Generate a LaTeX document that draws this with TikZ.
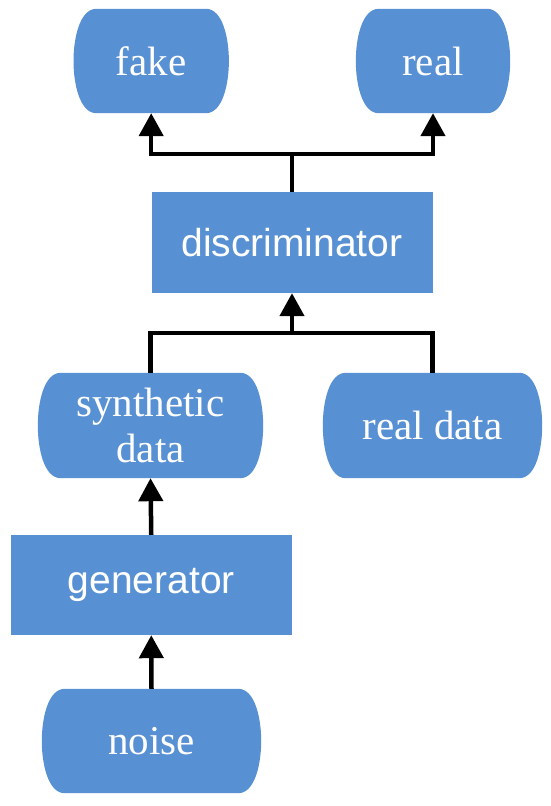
\documentclass[tikz,border=0pt]{standalone}
\usepackage{fontspec}
\usetikzlibrary{arrows.meta, backgrounds}
\newfontfamily\serifface{Liberation Serif}
\newfontfamily\sansface{Liberation Sans}
\definecolor{boxblue}{RGB}{88,144,212}
\tikzset{
	pill/.style={inner sep=0pt, text=white, align=center, font=\serifface\fontsize{41}{48}\selectfont},
	procbox/.style={fill=boxblue, inner sep=0pt, text=white, align=center, font=\sansface\fontsize{39}{47}\selectfont},
	flow/.style={line width=4.5pt, draw=black},
	flowarrow/.style={flow, -{Triangle[width=24pt, length=23pt]}},
}
% terminal outline with bulging ends, filled behind the node
\newcommand{\pillshape}[1]{%
	\fill[boxblue] ([xshift=23pt]#1.north west) -- ([xshift=-23pt]#1.north east)
		.. controls ([xshift=-6pt]#1.north east) and ([yshift=-30pt]#1.north east) .. (#1.east)
		.. controls ([yshift=30pt]#1.south east) and ([xshift=-6pt]#1.south east) .. ([xshift=-23pt]#1.south east)
		-- ([xshift=23pt]#1.south west)
		.. controls ([xshift=6pt]#1.south west) and ([yshift=30pt]#1.south west) .. (#1.west)
		.. controls ([yshift=-30pt]#1.north west) and ([xshift=6pt]#1.north west) .. ([xshift=23pt]#1.north west) -- cycle;}
\begin{document}
\begin{tikzpicture}[x=1pt, y=-1pt]
	\useasboundingbox (0, 0) rectangle (550, 806);
	\node[pill, minimum width=155pt, minimum height=104pt] (fake) at (151.2, 61) {fake};
	\node[pill, minimum width=154pt, minimum height=104pt] (real) at (433, 61) {real};
	\node[procbox, minimum width=281pt, minimum height=101pt] (disc) at (292, 242.5) {discriminator};
	\node[pill, minimum width=225pt, minimum height=105pt] (synth) at (150.5, 425.5) {synthetic\\[-2pt]data};
	\node[pill, minimum width=219pt, minimum height=105pt] (realdata) at (432.5, 425.5) {real data};
	\node[procbox, minimum width=281.5pt, minimum height=100pt] (gen) at (151.25, 585) {generator};
	\node[pill, minimum width=219pt, minimum height=104pt] (noise) at (151.5, 741) {noise};
	\begin{scope}[on background layer]
		\pillshape{fake}
		\pillshape{real}
		\pillshape{synth}
		\pillshape{realdata}
		\pillshape{noise}
	\end{scope}
	% discriminator output split
	\coordinate (split) at (292, 154);
	\draw[flow] (disc.north) -- (split);
	\draw[flowarrow] (split) -| (fake.south);
	\draw[flowarrow] (split) -| (real.south);
	% data inputs merge
	\coordinate (merge) at (292, 333);
	\draw[flow] (synth.north) |- (merge) -| (realdata.north);
	\draw[flowarrow] (merge) -- (disc.south);
	% generator chain
	\draw[flowarrow] (gen.north) -- (synth.south);
	\draw[flowarrow] (noise.north) -- (gen.south);
\end{tikzpicture}
\end{document}
